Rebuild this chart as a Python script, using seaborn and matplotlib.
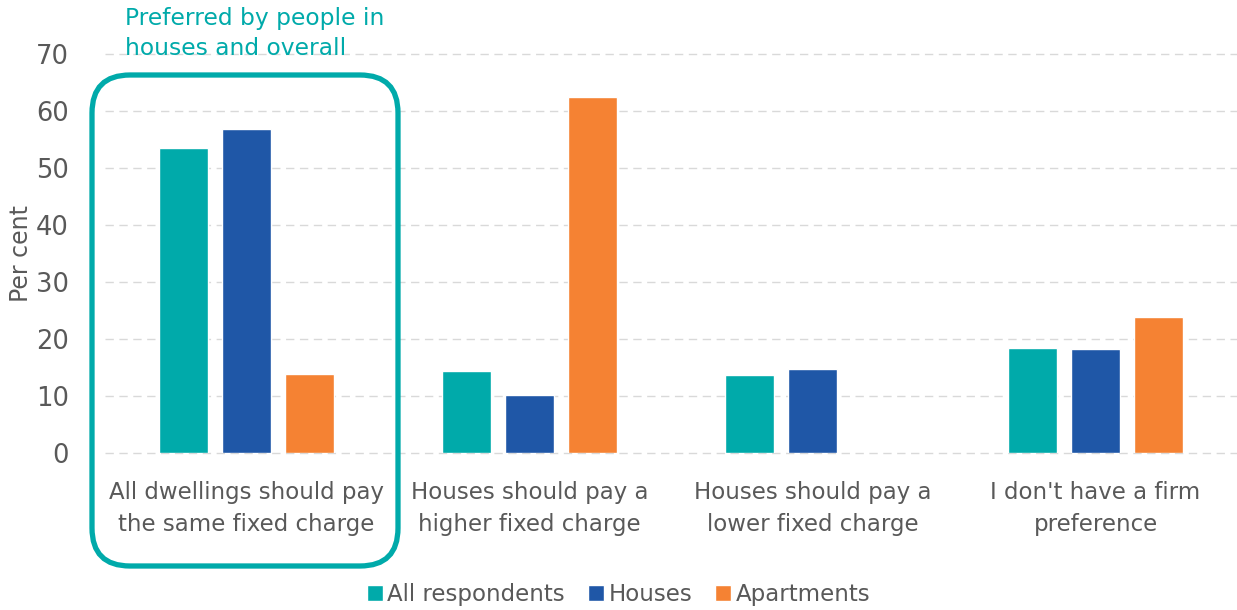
import matplotlib
matplotlib.use("Agg")
import matplotlib.pyplot as plt
from matplotlib.patches import FancyBboxPatch, Patch
import seaborn as sns
import pandas as pd

# data
categories = [
    "All dwellings should pay\nthe same fixed charge",
    "Houses should pay a\nhigher fixed charge",
    "Houses should pay a\nlower fixed charge",
    "I don't have a firm\npreference",
]
groups = ["All respondents", "Houses", "Apartments"]
all_respondents = [53.5, 14.4, 13.6, 18.5]
houses = [56.8, 10.2, 14.8, 18.2]
apartments = [13.9, 62.5, 0.0, 23.8]
y_ticks = [0, 10, 20, 30, 40, 50, 60, 70]

colors = ["#00AAAA", "#1F57A7", "#F58233"]
teal = "#00AAAA"
grey = "#595959"

rows = []
for g, vals in zip(groups, [all_respondents, houses, apartments]):
    for c, v in zip(categories, vals):
        rows.append({"category": c, "group": g, "value": v})
df = pd.DataFrame(rows)

sns.set_style("white")
plt.rcParams["font.family"] = ["DejaVu Sans"]

fig = plt.figure(figsize=(12.37, 6.10), dpi=100)
ax = fig.add_axes([105 / 1237, 1 - 453 / 610, 1 - 105 / 1237, (453 - 54) / 610])

sns.barplot(data=df, x="category", y="value", hue="group", order=categories,
            hue_order=groups, palette=colors, width=0.668, gap=0.22,
            saturation=1, ax=ax, legend=False)

ax.set_ylim(0, 70)
ax.set_xlim(-0.5, 3.5)
ax.set_yticks(y_ticks)
ax.yaxis.grid(True, linestyle=(0, (6, 4)), color="#D9D9D9", linewidth=1)
for gl in ax.get_ygridlines():
    gl.set_clip_on(False)
ax.set_axisbelow(True)
for s in ax.spines.values():
    s.set_visible(False)
ax.tick_params(axis="both", length=0, colors=grey)
ax.tick_params(axis="x", pad=20, labelsize=16.5)
ax.tick_params(axis="y", pad=26, labelsize=18.5)
for lbl in ax.get_xticklabels():
    lbl.set_linespacing(1.5)
ax.set_xlabel("")
ax.set_ylabel("Per cent", color=grey, fontsize=17, labelpad=2)

# overlay in pixel units for the highlight box and its note
ov = fig.add_axes([0, 0, 1, 1], facecolor="none")
ov.set_xlim(0, 1237)
ov.set_ylim(610, 0)
ov.axis("off")
box = FancyBboxPatch((92, 75), 306, 491, boxstyle="round,pad=0,rounding_size=38",
                     fill=False, edgecolor=teal, linewidth=3.8)
ov.add_patch(box)
ov.text(125, 7, "Preferred by people in\nhouses and overall", color=teal,
        fontsize=16.8, va="top", ha="left", linespacing=1.4)

handles = [Patch(facecolor=c, label=g) for g, c in zip(groups, colors)]
fig.legend(handles=handles, loc="lower center", bbox_to_anchor=(0.5, -0.027),
           ncol=3, frameon=False, fontsize=16.5, handlelength=0.7,
           handleheight=0.7, handletextpad=0.2, columnspacing=1.0,
           labelcolor=grey)

fig.savefig("out.png", dpi=100)
